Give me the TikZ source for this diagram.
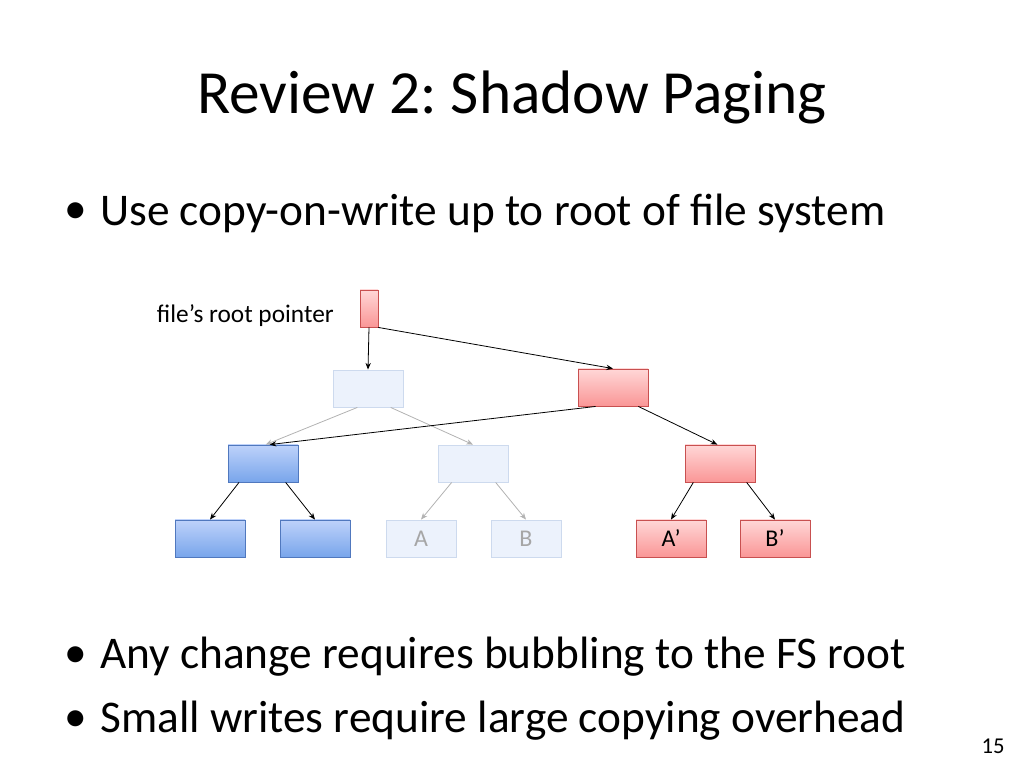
\documentclass[tikz,border=0pt]{standalone}
\usepackage{fontspec}
\setmainfont{Carlito}
\frenchspacing
\usetikzlibrary{arrows.meta}
\definecolor{redb}{RGB}{200,80,80}
\definecolor{redt}{RGB}{255,215,215}
\definecolor{redm}{RGB}{250,150,150}
\definecolor{blueb}{RGB}{80,120,190}
\definecolor{bluet}{RGB}{190,210,250}
\definecolor{bluem}{RGB}{120,165,235}
\definecolor{lightb}{RGB}{205,218,238}
\definecolor{lightf}{RGB}{236,242,252}
\begin{document}
\begin{tikzpicture}[x=0.75pt,y=-0.75pt,
  box/.style={minimum width=52.5pt,minimum height=28pt,inner sep=0pt,font=\fontsize{18}{22}\selectfont},
  redbox/.style={box,draw=redb,top color=redt,bottom color=redm},
  bluebox/.style={box,draw=blueb,top color=bluet,bottom color=bluem},
  lightbox/.style={box,draw=lightb,fill=lightf,text=gray!70},
  blk/.style={-{Stealth[length=5pt,width=4pt]},black,line width=0.6pt},
  gry/.style={-{Stealth[length=5pt,width=4pt]},gray!60,line width=0.6pt},
  bul/.style={anchor=west,inner sep=0pt,font=\fontsize{34}{40}\selectfont},
  dot/.style={font=\fontsize{34}{40}\selectfont}]
\useasboundingbox (0,0) rectangle (1024,768);
\node[font=\fontsize{46}{54}\selectfont] (title) at (512,97) {Review 2: Shadow Paging};
\node[bul] (b1) at (100,213) {Use copy-on-write up to root of file system};
\node[bul] (b2) at (100,657) {Any change requires bubbling to the FS root};
\node[bul] (b3) at (100,721) {Small writes require large copying overhead};
\node[dot] (d1) at (76,213) {•};
\node[dot] (d2) at (76,657) {•};
\node[dot] (d3) at (76,721) {•};
\node[font=\fontsize{17}{20}\selectfont] (pg) at (993,746) {15};
\node[anchor=east,inner sep=0pt,font=\fontsize{19}{22}\selectfont] (lab) at (334,316) {file’s root pointer};
\node[redbox,minimum width=13.5pt] (root) at (369,308.5) {};
\node[lightbox] (l1a) at (368,388.5) {};
\node[redbox] (l1b) at (613,387.5) {};
\node[bluebox] (l2a) at (263,463.5) {};
\node[lightbox] (l2b) at (473,463.5) {};
\node[redbox] (l2c) at (720,463.5) {};
\node[bluebox] (c1) at (210,538.5) {};
\node[bluebox] (c2) at (315,538.5) {};
\node[lightbox] (c3) at (421,538.5) {A};
\node[lightbox] (c4) at (526,538.5) {B};
\node[redbox] (c5) at (671,538.5) {A’};
\node[redbox] (c6) at (775,538.5) {B’};
\draw[blk] (root.south) -- (l1a.north);
\draw[blk] (root.south east) -- (l1b.north);
\draw[gry] ([xshift=-8]l1a.south) -- ([xshift=2]l2a.north);
\draw[gry] ([xshift=17]l1a.south) -- (l2b.north);
\draw[blk] ([xshift=-13]l1b.south) -- ([xshift=5]l2a.north);
\draw[blk] ([xshift=19]l1b.south) -- ([xshift=-2]l2c.north);
\draw[blk] ([xshift=-18]l2a.south) -- (c1.north);
\draw[blk] ([xshift=17]l2a.south) -- (c2.north);
\draw[gry] ([xshift=-16]l2b.south) -- (c3.north);
\draw[gry] ([xshift=17]l2b.south) -- (c4.north);
\draw[blk] ([xshift=-20]l2c.south) -- (c5.north);
\draw[blk] ([xshift=20]l2c.south) -- (c6.north);
\end{tikzpicture}
\end{document}
